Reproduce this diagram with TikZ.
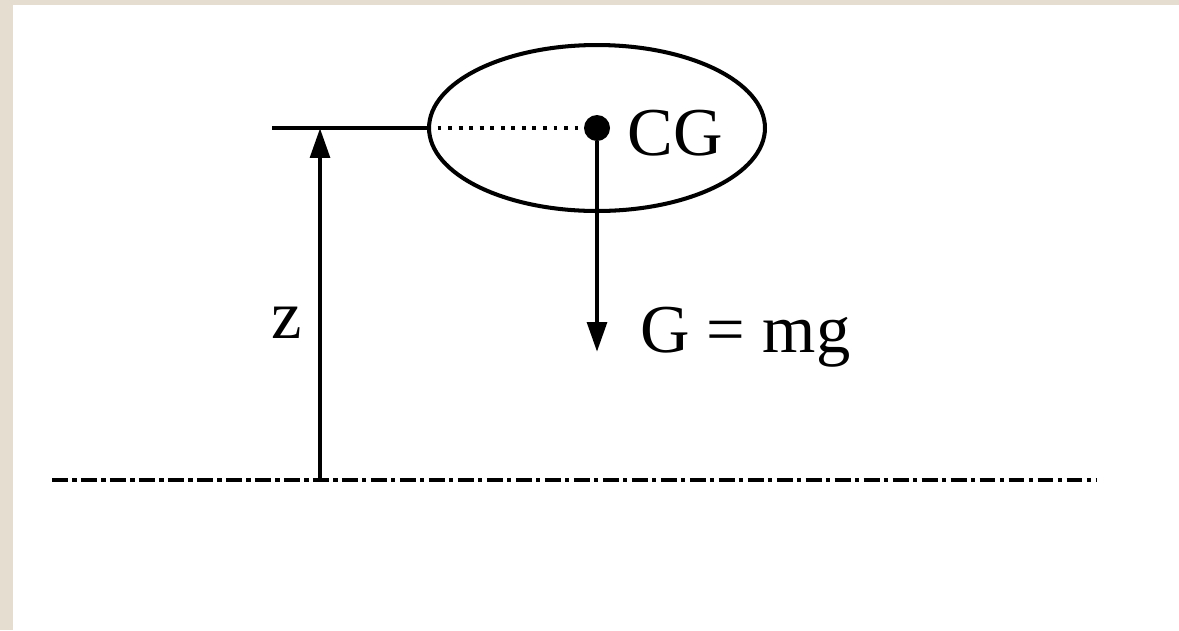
\documentclass[tikz,border=0pt]{standalone}
\usepackage{fontspec}
\setmainfont{Liberation Serif}
\usetikzlibrary{shapes.geometric,arrows.meta}
\definecolor{framebeige}{RGB}{228,221,208}
\tikzset{
  label text/.style={inner sep=0pt, font=\fontsize{39}{42}\selectfont},
  force arrow/.style={line width=2.7pt, -{Triangle[length=17pt,width=11pt]}}
}
\begin{document}
\begin{tikzpicture}[x=0.02cm, y=-0.02cm]
    % frame
    \fill[framebeige] (0,0) rectangle (1179,630);
    \fill[white] (13,5) rectangle (1179,630);
    \useasboundingbox (0,0) rectangle (1179,630);

    \node[draw, ellipse, line width=2.3pt, minimum width=6.72cm, minimum height=3.32cm, inner sep=0pt] (body) at (597,128) {};
    \node[circle, fill=black, inner sep=0pt, minimum size=0.52cm] (cg) at (597,128) {};
    \node[label text, anchor=base west] (cglabel) at (627,155) {CG};
    \node[label text, anchor=base west] (weight) at (640,352) {G = mg};
    \node[label text, anchor=base] (height) at (287,338) {z};

    \coordinate (reftip) at (272,128);
    \coordinate (ztop) at (320,128);
    \coordinate (zbase) at (320,480);
    \coordinate (gtip) at (597,352);
    \coordinate (groundl) at (52,480);
    \coordinate (groundr) at (1097,480);

    \draw[line width=2.3pt] (reftip) -- (body.west);
    \draw[line width=2.2pt, dash pattern=on 2.2pt off 3.8pt] (body.west) -- (cg);
    \draw[force arrow] (cg) -- (gtip);
    \draw[force arrow] (zbase) -- (ztop);
    \draw[line width=2.6pt, dash pattern=on 9pt off 2.5pt on 2.5pt off 2.5pt] (groundl) -- (groundr);
\end{tikzpicture}
\end{document}
